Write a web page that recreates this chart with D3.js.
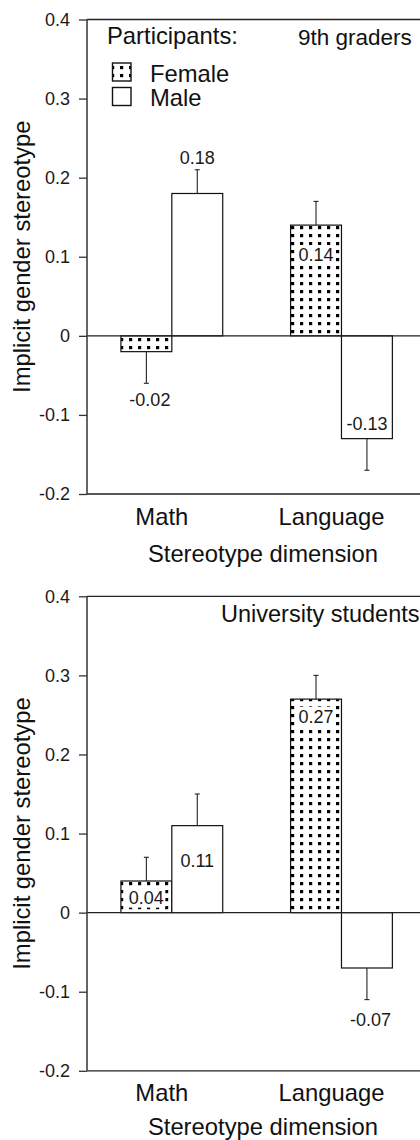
<!DOCTYPE html>
<html>
<head>
<meta charset="utf-8">
<script src="https://cdnjs.cloudflare.com/ajax/libs/d3/7.8.5/d3.min.js"></script>
<style>
body { margin: 0; background: #fff; }
svg { display: block; font-family: "Liberation Sans", Arial, sans-serif; }
</style>
</head>
<body>
<div class="visArea"></div>
<script>
// Set up size
var chartWidth = 420;
var chartHeight = 1140;

// Values
var categories = ['Math', 'Language'];
var groups = ['Female', 'Male'];
var yTicks = [-0.2, -0.1, 0, 0.1, 0.2, 0.3, 0.4];
var panelTitles = ['9th graders', 'University students'];

var ninthFemale = [-0.02, 0.14];
var ninthMale = [0.18, -0.13];
var ninthFemaleErr = [0.04, 0.03];
var ninthMaleErr = [0.03, 0.04];

var uniFemale = [0.04, 0.27];
var uniMale = [0.11, -0.07];
var uniFemaleErr = [0.03, 0.03];
var uniMaleErr = [0.04, 0.04];

// layout
var axisX = 87;
var rightX = 420;
var plotHeight = 474.5;
var panelTops = [19.5, 596.3];
var bigFont = 23.8;

// where each value label sits (bars in order Math F, Math M, Language F, Language M)
var labelSpots = [
  [{at: 'end', dy: 23, dx: 3.5}, {at: 'end', dy: -6, dx: 0}, {at: 'top', dy: 36, dx: 0}, {at: 'bottom', dy: -9, dx: 0}],
  [{at: 'bottom', dy: -9, dx: 0}, {at: 'top', dy: 41, dx: 0}, {at: 'top', dy: 23.5, dx: 0}, {at: 'end', dy: 26, dx: 3.5}]
];

var svg = d3.select('.visArea')
  .append('svg')
  .attr('width', chartWidth)
  .attr('height', chartHeight);

// dotted fill used for the female bars
var pattern = svg.append('defs').append('pattern')
  .attr('id', 'dots')
  .attr('patternUnits', 'userSpaceOnUse')
  .attr('x', 2)
  .attr('y', 1)
  .attr('width', 9)
  .attr('height', 8);
pattern.append('rect').attr('width', 9).attr('height', 8).attr('fill', '#fff');
pattern.append('rect').attr('x', 1).attr('y', 1).attr('width', 3.2).attr('height', 3.2).attr('fill', '#000');

var x = d3.scaleBand()
  .domain(categories)
  .range([axisX, 426.3])
  .paddingInner(0.4)
  .paddingOuter(0.2);

var xSub = d3.scaleBand()
  .domain(groups)
  .range([0, x.bandwidth()]);

function tickText(d) {
  if (Math.abs(d) < 1e-9) return '0';
  return d.toFixed(1);
}

drawPanel(0, ninthFemale, ninthMale, ninthFemaleErr, ninthMaleErr, 298, 22.5);
drawPanel(1, uniFemale, uniMale, uniFemaleErr, uniMaleErr, 221, 23.5);
drawLegend();

function drawPanel(index, fem, male, femErr, maleErr, titleX, titleSize) {
  var top = panelTops[index];
  var y = d3.scaleLinear()
    .domain([-0.2, 0.4])
    .range([top + plotHeight, top]);

  var g = svg.append('g').attr('class', 'panel' + index);

  // bars data
  var rows = [];
  categories.forEach(function(c, i) {
    rows.push({cat: c, group: 'Female', value: fem[i], err: femErr[i]});
    rows.push({cat: c, group: 'Male', value: male[i], err: maleErr[i]});
  });
  rows.forEach(function(d, i) { d.spot = labelSpots[index][i]; });

  // y axis
  var axis = g.append('g')
    .attr('transform', 'translate(' + axisX + ',0)')
    .call(d3.axisLeft(y).tickValues(yTicks).tickSize(8).tickPadding(9).tickFormat(tickText));
  axis.select('.domain').remove();
  axis.selectAll('.tick line').attr('stroke', '#333').attr('stroke-width', 1.3);
  axis.selectAll('.tick text')
    .attr('font-size', 18)
    .attr('font-family', '"Liberation Sans", Arial, sans-serif')
    .attr('fill', '#1a1a1a');

  // bars
  g.selectAll('rect.bar')
    .data(rows)
    .enter()
    .append('rect')
    .attr('class', 'bar')
    .attr('x', d => x(d.cat) + xSub(d.group))
    .attr('width', xSub.bandwidth())
    .attr('y', d => y(Math.max(0, d.value)))
    .attr('height', d => Math.abs(y(d.value) - y(0)))
    .attr('fill', d => d.group === 'Female' ? 'url(#dots)' : '#fff')
    .attr('stroke', '#111')
    .attr('stroke-width', 1.2);

  // frame lines
  var frame = [y(0.4), y(0), y(-0.2)];
  g.selectAll('line.frame')
    .data(frame)
    .enter()
    .append('line')
    .attr('class', 'frame')
    .attr('x1', axisX)
    .attr('x2', rightX)
    .attr('y1', d => d)
    .attr('y2', d => d)
    .attr('stroke', '#222')
    .attr('stroke-width', 1.3);
  g.append('line')
    .attr('x1', axisX).attr('x2', axisX)
    .attr('y1', y(0.4)).attr('y2', y(-0.2))
    .attr('stroke', '#333')
    .attr('stroke-width', 1.5);

  // error bars, drawn away from zero only
  var cx = d => x(d.cat) + xSub(d.group) + xSub.bandwidth() / 2;
  var errEnd = d => y(d.value + (d.value < 0 ? -d.err : d.err));

  g.selectAll('line.err')
    .data(rows)
    .enter()
    .append('line')
    .attr('class', 'err')
    .attr('x1', cx).attr('x2', cx)
    .attr('y1', d => y(d.value))
    .attr('y2', errEnd)
    .attr('stroke', '#222')
    .attr('stroke-width', 1.1);
  g.selectAll('line.cap')
    .data(rows)
    .enter()
    .append('line')
    .attr('class', 'cap')
    .attr('x1', d => cx(d) - 2.5).attr('x2', d => cx(d) + 2.5)
    .attr('y1', errEnd).attr('y2', errEnd)
    .attr('stroke', '#222')
    .attr('stroke-width', 1.1);

  // value labels
  function labelY(d) {
    if (d.spot.at === 'end') return errEnd(d) + d.spot.dy;
    if (d.spot.at === 'top') return y(Math.max(0, d.value)) + d.spot.dy;
    return y(Math.min(0, d.value)) + d.spot.dy;
  }
  var labels = g.selectAll('g.vlabel')
    .data(rows)
    .enter()
    .append('g')
    .attr('class', 'vlabel');
  labels.filter(d => d.spot.at !== 'end')
    .append('rect')
    .attr('x', d => cx(d) - 19)
    .attr('y', d => labelY(d) - 16)
    .attr('width', 38)
    .attr('height', 20)
    .attr('fill', '#fff');
  labels.append('text')
    .attr('x', d => cx(d) + d.spot.dx)
    .attr('y', labelY)
    .attr('text-anchor', 'middle')
    .attr('font-size', 18)
    .attr('fill', '#1a1a1a')
    .text(d => d.value.toFixed(2));

  // category labels
  g.selectAll('text.cat')
    .data(categories)
    .enter()
    .append('text')
    .attr('class', 'cat')
    .attr('x', d => x(d) + x.bandwidth() / 2 - 10)
    .attr('y', y(-0.2) + 30.5)
    .attr('text-anchor', 'middle')
    .attr('font-size', bigFont)
    .attr('fill', '#111')
    .text(d => d);

  g.append('text')
    .attr('x', 263)
    .attr('y', Math.min(y(-0.2) + 67.5, chartHeight - 5.5))
    .attr('text-anchor', 'middle')
    .attr('font-size', bigFont)
    .attr('fill', '#111')
    .text('Stereotype dimension');

  g.append('text')
    .attr('transform', 'translate(30,' + (top + plotHeight / 2) + ') rotate(-90)')
    .attr('text-anchor', 'middle')
    .attr('font-size', bigFont)
    .attr('fill', '#111')
    .text('Implicit gender stereotype');

  g.append('text')
    .attr('x', titleX)
    .attr('y', top + 25.5)
    .attr('font-size', titleSize)
    .attr('fill', '#111')
    .text(panelTitles[index]);
}

function drawLegend() {
  var lg = svg.append('g').attr('class', 'legend');
  lg.append('text')
    .attr('x', 107)
    .attr('y', 44)
    .attr('font-size', bigFont)
    .attr('fill', '#111')
    .text('Participants:');

  var items = lg.selectAll('g.item')
    .data(groups)
    .enter()
    .append('g')
    .attr('class', 'item')
    .attr('transform', (d, i) => 'translate(0,' + (i * 24.5) + ')');
  items.append('rect')
    .attr('x', 112.5)
    .attr('y', 63)
    .attr('width', 18.5)
    .attr('height', 18)
    .attr('fill', d => d === 'Female' ? 'url(#dots)' : '#fff')
    .attr('stroke', '#111')
    .attr('stroke-width', 1.4);
  items.append('text')
    .attr('x', 150)
    .attr('y', 81.5)
    .attr('font-size', bigFont)
    .attr('fill', '#111')
    .text(d => d);
}
</script>
</body>
</html>
